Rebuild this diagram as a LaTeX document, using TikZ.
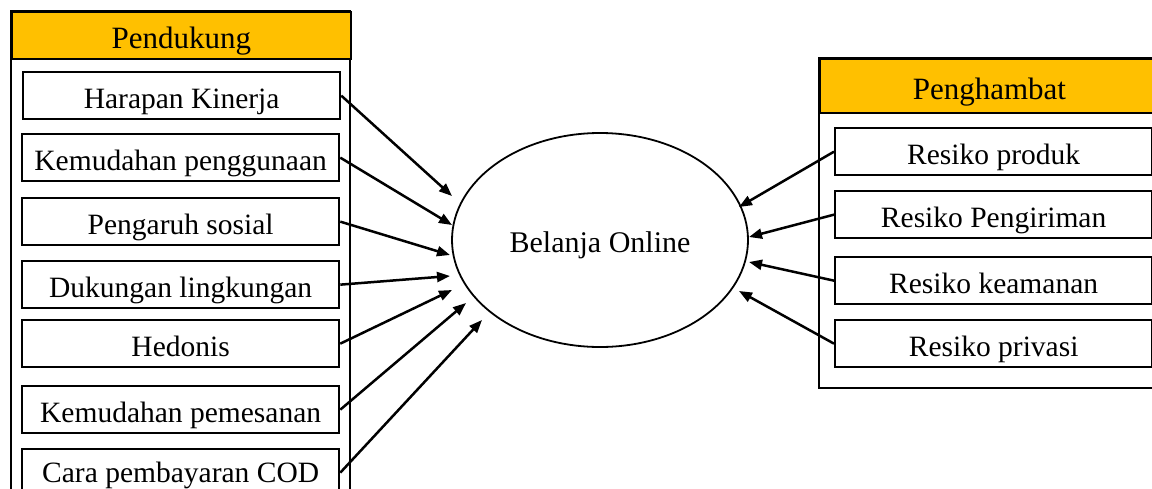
\documentclass[tikz,border=0pt]{standalone}
\usepackage{fontspec}
\setmainfont{Liberation Serif}
\usetikzlibrary{arrows.meta,shapes.geometric}
\definecolor{hdr}{HTML}{FFC000}
\begin{document}
\begin{tikzpicture}[x=1pt,y=-1pt,
  panel/.style={draw=black,line width=1.8pt},
  header/.style={draw=black,line width=1.8pt,fill=hdr,minimum width=339pt,inner sep=0pt,anchor=north west,text height=30pt,text depth=3pt,font=\fontsize{31}{36}\selectfont},
  item/.style={draw=black,line width=2.3pt,minimum width=317pt,minimum height=47pt,inner sep=0pt,anchor=north west,text height=30pt,text depth=4pt,font=\fontsize{29.5}{34}\selectfont},
  conn/.style={line width=2.5pt,-{Triangle[length=13pt,width=10pt]}}]
\useasboundingbox (0,0) rectangle (1152,488);
\clip (0,0) rectangle (1152,488);
% left panel
\draw[panel] (11,11) rectangle (350,520);
\node[header,minimum height=47pt] (hL) at (11,11) {Pendukung};
\node[item] (l1) at (22,71) {Harapan Kinerja};
\node[item] (l2) at (21,133) {Kemudahan penggunaan};
\node[item] (l3) at (21,197) {Pengaruh sosial};
\node[item] (l4) at (21,260) {Dukungan lingkungan};
\node[item] (l5) at (21,319) {Hedonis};
\node[item] (l6) at (21,385) {Kemudahan pemesanan};
\node[item,text depth=11pt] (l7) at (21,448) {Cara pembayaran COD};
% right panel
\draw[panel] (819,58) rectangle (1160,388);
\node[header,minimum height=54pt] (hR) at (819,58) {Penghambat};
\node[item] (r1) at (834,127) {Resiko produk};
\node[item] (r2) at (834,190) {Resiko Pengiriman};
\node[item] (r3) at (834,256) {Resiko keamanan};
\node[item] (r4) at (834,319) {Resiko privasi};
% centre
\node[ellipse,draw=black,line width=1.8pt,minimum width=296pt,minimum height=214pt,inner sep=0pt,text height=28pt,text depth=4pt,font=\fontsize{30}{36}\selectfont] (ell) at (600,240) {Belanja Online};
% arrow ends
\coordinate (a1) at (452,196);
\coordinate (a2) at (452,225);
\coordinate (a3) at (450,255);
\coordinate (a4) at (450,276);
\coordinate (a5) at (452,290);
\coordinate (a6) at (466,303);
\coordinate (a7) at (482,320);
\coordinate (b1) at (739,207);
\coordinate (b2) at (749,237);
\coordinate (b3) at (749,262);
\coordinate (b4) at (739,291);
\draw[conn] (l1.east) -- (a1);
\draw[conn] (l2.east) -- (a2);
\draw[conn] (l3.east) -- (a3);
\draw[conn] (l4.east) -- (a4);
\draw[conn] (l5.east) -- (a5);
\draw[conn] (l6.east) -- (a6);
\draw[conn] (l7.east) -- (a7);
\draw[conn] (r1.west) -- (b1);
\draw[conn] (r2.west) -- (b2);
\draw[conn] (r3.west) -- (b3);
\draw[conn] (r4.west) -- (b4);
\end{tikzpicture}
\end{document}
